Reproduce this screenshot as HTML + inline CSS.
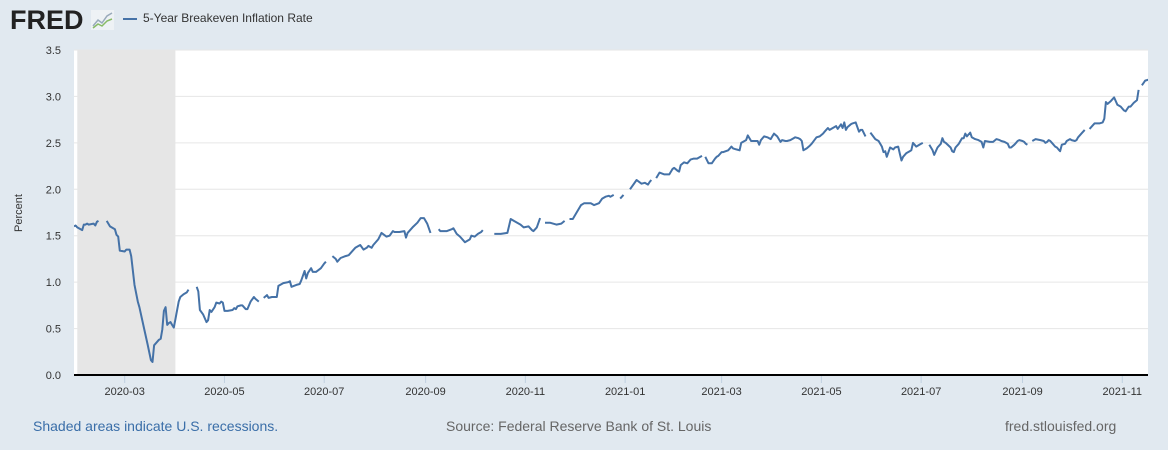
<!DOCTYPE html>
<html><head><meta charset="utf-8"><style>
body{margin:0;width:1168px;height:450px;background:#e1e9f0;font-family:"Liberation Sans",sans-serif;overflow:hidden;position:relative}
.t{position:absolute;white-space:nowrap}
</style></head><body>
<div class="t" style="left:10px;top:5px;font-size:27px;font-weight:bold;color:#222">FRED</div>
<svg class="t" style="left:91px;top:10px" width="23" height="20"><rect width="23" height="20" fill="#eef2f5"/><polyline points="2,16 7,10 11,13 16,6 21,3" fill="none" stroke="#9ab" stroke-width="1.5"/><polyline points="2,18 7,14 11,16 16,11 21,9" fill="none" stroke="#8b6" stroke-width="1.5"/></svg>
<div class="t" style="left:123px;top:11px;font-size:12px;color:#333"><span style="display:inline-block;width:14px;height:2px;background:#4572a7;vertical-align:middle;margin-right:6px"></span>5-Year Breakeven Inflation Rate</div>
<svg id="chart" width="1168" height="450" style="position:absolute;left:0;top:0"></svg>
<div class="t" style="left:33px;top:418px;font-size:14px;color:#3a6ea8">Shaded areas indicate U.S. recessions.</div>
<div class="t" style="left:446px;top:418px;font-size:14px;color:#666">Source: Federal Reserve Bank of St. Louis</div>
<div class="t" style="left:1005px;top:418px;font-size:14px;color:#666">fred.stlouisfed.org</div>
<script>
// days since 2020-01-30; null value = gap
const days=[0,1,2,5,6,7,8,9,12,13,14,15,17,
20,22,25,26,27,28,31,32,34,35,37,39,40,43,45,47,48,49,52,53,54,55,56,57,58,59,60,61,62,64,65,67,69,70,72,
75,76,77,79,81,82,83,84,86,87,89,90,91,92,94,97,98,99,100,102,103,105,106,108,110,111,113,115,
116,118,119,121,124,125,128,131,132,133,136,138,139,141,142,143,145,146,148,151,153,154,156,
158,160,161,163,166,168,171,172,174,175,177,179,180,182,183,186,188,191,193,195,196,199,202,203,204,207,210,212,214,216,218,221,
223,224,228,231,232,234,236,239,242,243,245,247,249,250,254,
257,261,265,267,269,273,275,278,280,281,283,285,286,
288,291,295,298,300,301,
303,305,307,310,312,316,318,321,323,325,327,328,330,333,
334,336,337,
340,344,347,349,351,352,353,354,
356,358,361,364,366,367,369,370,371,373,375,377,379,381,383,384,385,
386,388,390,392,393,394,396,397,400,402,403,405,407,408,410,411,412,414,416,418,419,420,422,424,426,427,428,430,432,433,435,436,438,440,441,443,444,445,446,448,450,451,454,456,458,459,461,462,464,466,467,469,470,471,472,473,475,476,478,480,481,482,484,485,
487,490,492,494,495,496,497,499,501,502,504,505,506,507,509,511,512,513,514,515,518,519,521,
523,525,526,528,530,531,532,533,536,537,538,539,541,542,543,544,545,546,548,549,551,553,554,555,556,557,560,562,564,566,567,569,571,572,573,575,576,577,578,580,581,582,583,585,
586,588,591,593,594,595,596,597,598,600,601,602,603,604,606,607,609,610,612,613,614,616,618,620,
621,624,627,629,630,631,632,634,636,638,640,642,643,645,646,648,650,651,652,
653,655,657];
const values=[1.60,1.61,1.59,1.56,1.62,1.62,1.63,1.62,1.63,1.61,1.65,1.66,null,
1.66,1.60,1.57,1.51,1.49,1.34,1.33,1.35,1.35,1.28,0.97,0.79,0.73,0.49,0.33,0.16,0.14,0.32,0.38,0.39,0.49,0.69,0.73,0.54,0.56,0.57,0.54,0.51,0.60,0.79,0.84,0.87,0.89,0.92,null,
0.95,0.90,0.70,0.65,0.57,0.59,0.70,0.68,0.73,0.78,0.77,0.79,0.78,0.69,0.69,0.70,0.72,0.71,0.74,0.75,0.75,0.71,0.71,0.79,0.84,0.82,0.79,null,
0.83,0.86,0.83,0.84,0.84,0.96,0.99,1.00,1.01,0.95,0.97,0.98,1.02,1.12,1.04,1.10,1.15,1.11,1.11,1.15,1.20,1.22,null,
1.28,1.25,1.22,1.26,1.28,1.29,1.35,1.37,1.39,1.40,1.35,1.37,1.39,1.37,1.40,1.46,1.53,1.49,1.50,1.55,1.54,1.54,1.55,1.48,1.53,1.59,1.64,1.69,1.69,1.63,1.53,null,
1.57,1.55,1.55,1.57,1.58,1.52,1.49,1.43,1.46,1.50,1.49,1.52,1.54,1.56,null,
1.52,1.52,1.53,1.68,1.66,1.62,1.59,1.60,1.56,1.55,1.59,1.69,null,
1.64,1.64,1.62,1.63,1.66,null,
1.68,1.68,1.74,1.83,1.85,1.85,1.83,1.85,1.90,1.92,1.93,1.92,1.94,null,
1.90,1.94,null,
2.00,2.10,2.06,2.07,2.05,2.08,2.10,null,
2.12,2.18,2.16,2.16,2.22,2.23,2.20,2.19,2.26,2.29,2.28,2.32,2.33,2.33,2.35,2.36,null,
2.35,2.28,2.28,2.33,2.35,2.36,2.40,2.40,2.42,2.46,2.44,2.43,2.42,2.50,2.52,2.53,2.58,2.52,2.52,2.52,2.48,2.53,2.57,2.56,2.54,2.57,2.60,2.57,2.51,2.53,2.52,2.52,2.53,2.55,2.56,2.55,2.54,2.52,2.42,2.44,2.47,2.49,2.56,2.57,2.60,2.62,2.66,2.64,2.66,2.68,2.65,2.70,2.66,2.72,2.64,2.67,2.70,2.71,2.72,2.62,2.64,2.64,2.57,null,
2.61,2.54,2.52,2.46,2.40,2.41,2.35,2.45,2.43,2.45,2.46,2.38,2.31,2.35,2.39,2.41,2.42,2.50,2.48,2.46,2.49,2.50,null,
2.48,2.42,2.37,2.45,2.49,2.55,2.51,2.50,2.45,2.41,2.40,2.45,2.49,2.52,2.55,2.55,2.60,2.57,2.61,2.56,2.54,2.53,2.52,2.51,2.45,2.52,2.51,2.51,2.54,2.53,2.52,2.51,2.49,2.45,2.45,2.48,2.50,2.52,2.53,2.52,2.51,2.49,2.48,null,
2.52,2.54,2.53,2.52,2.50,2.51,2.53,2.52,2.50,2.46,2.45,2.43,2.41,2.48,2.49,2.52,2.54,2.53,2.52,2.53,2.56,2.60,2.64,null,
2.65,2.71,2.71,2.72,2.76,2.94,2.92,2.95,2.99,2.91,2.89,2.85,2.84,2.89,2.89,2.93,2.96,3.07,null,
3.12,3.17,3.18];
const yTicks=[0,0.5,1,1.5,2,2.5,3,3.5];
const yTickLabels=["0.0","0.5","1.0","1.5","2.0","2.5","3.0","3.5"];
const xTickDays=[31,92,153,215,276,337,396,457,518,580,641];
const xTickLabels=["2020-03","2020-05","2020-07","2020-09","2020-11","2021-01","2021-03","2021-05","2021-07","2021-09","2021-11"];
const recession=[2,62];

const L=74,R=1148,T=50,B=375,PXD=1.6354,YMAX=3.5;
const xs=d=>L+d*PXD, ys=v=>B-v/YMAX*(B-T);
const svg=document.getElementById('chart'),NS='http://www.w3.org/2000/svg';
function mk(tag,at){const e=document.createElementNS(NS,tag);for(const k in at)e.setAttribute(k,at[k]);svg.appendChild(e);return e;}
let e=mk('rect',{x:L,y:T,width:R-L,height:B-T,fill:'#fff'});


e=mk('rect',{x:xs(recession[0]),y:T,width:xs(recession[1])-xs(recession[0]),height:B-T,fill:'#e6e6e6'});


yTicks.forEach((v,i)=>{
  if(v>0){e=mk('line',{x1:L,x2:R,y1:ys(v),y2:ys(v),stroke:'#e6e6e6','stroke-width':1});
  
  }
  e=mk('text',{x:61,y:ys(v)+4,'text-anchor':'end','font-size':11,fill:'#333','font-family':'Liberation Sans'});
  e.textContent=yTickLabels[i];
  
  
});
xTickDays.forEach((d,i)=>{
  e=mk('line',{x1:xs(d),x2:xs(d),y1:B,y2:B+8,stroke:'#c0d0e0','stroke-width':1});
  
  
  e=mk('text',{x:xs(d),y:B+20,'text-anchor':'middle','font-size':11,fill:'#333','font-family':'Liberation Sans'});
  e.textContent=xTickLabels[i];
  
  
});
e=mk('line',{x1:L,x2:R,y1:B,y2:B,stroke:'#000','stroke-width':2});


e=mk('text',{x:0,y:0,transform:'translate(22,213) rotate(-90)','text-anchor':'middle','font-size':11,fill:'#333','font-family':'Liberation Sans'});
e.textContent='Percent';


let d='',pen=false;
days.forEach((dy,i)=>{const v=values[i];if(v===null){pen=false;return;}d+=(pen?'L':'M')+xs(dy).toFixed(1)+','+ys(v).toFixed(1);pen=true;});
mk('clipPath',{id:'cp'}).appendChild(document.createElementNS(NS,'rect'));
const cp=svg.querySelector('#cp rect');cp.setAttribute('x',L);cp.setAttribute('y',T-5);cp.setAttribute('width',R-L);cp.setAttribute('height',B-T+5);
e=mk('path',{d:d,fill:'none',stroke:'#4572a7','stroke-width':2,'stroke-linejoin':'round','clip-path':'url(#cp)'});


</script>
</body></html>
